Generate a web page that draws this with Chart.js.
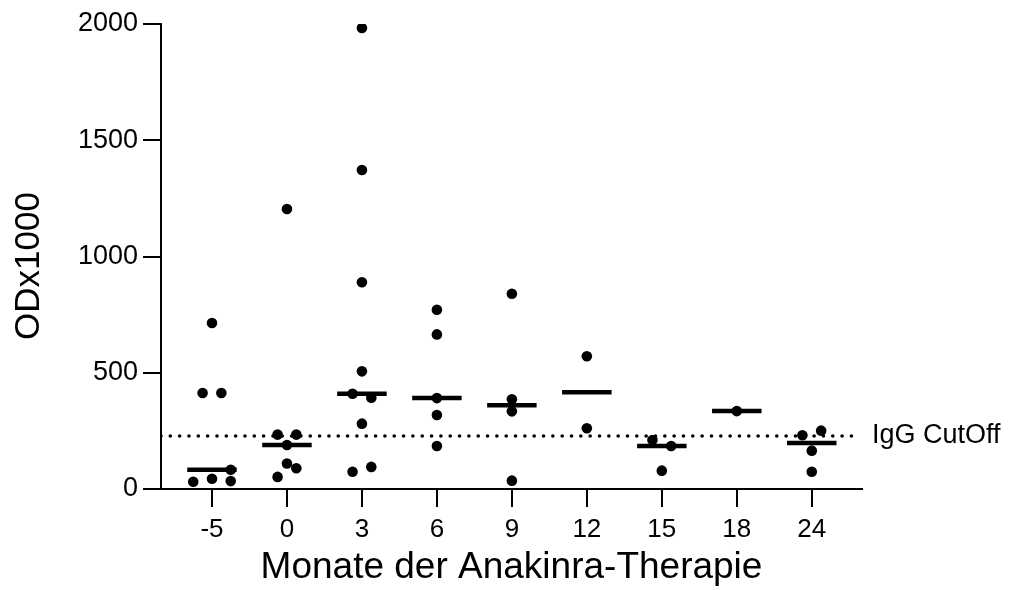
<!DOCTYPE html>
<html>
<head>
<meta charset="utf-8">
<title>ODx1000</title>
<script src="https://cdn.jsdelivr.net/npm/chart.js@4.4.1/dist/chart.umd.min.js"></script>
<style>
  html, body { margin: 0; padding: 0; background: #fff; }
  #wrap { width: 1010px; height: 590px; }
</style>
</head>
<body>
<div id="wrap"><canvas id="chart"></canvas></div>
<script>
// months of therapy (x categories)
const months = ['-5', '0', '3', '6', '9', '12', '15', '18', '24'];

// ODx1000 per patient, in entry order
const odMinus5 = [31, 44, 34, 83, 413, 413, 714];
const odMonth0 = [52, 89, 110, 189, 234, 234, 1204];
const odMonth3 = [74, 95, 281, 410, 393, 506, 889, 1372, 1983];
const odMonth6 = [185, 318, 391, 665, 771];
const odMonth9 = [36, 334, 386, 840];
const odMonth12 = [261, 571];
const odMonth15 = [79, 211, 185];
const odMonth18 = [335];
const odMonth24 = [74, 165, 231, 251];

const iggCutoff = 228;
const yTicks = [0, 500, 1000, 1500, 2000];

const groups = [odMinus5, odMonth0, odMonth3, odMonth6, odMonth9, odMonth12, odMonth15, odMonth18, odMonth24];

const FONT = "'Liberation Sans', Arial, Helvetica, sans-serif";
const HALF_STEP = 0.125;   // horizontal spread step, in category units
const ROW_SPAN = 42;       // values closer than this share a row / collide
const MEDIAN_HALF = 0.33;

function median(arr) {
    const s = [...arr].sort((a, b) => a - b);
    const mid = Math.floor(s.length / 2);
    return s.length % 2 ? s[mid] : (s[mid - 1] + s[mid]) / 2;
}

// simple dot-plot spread: points with close values are put side by side
function spread(values) {
    const order = values.map((v, i) => i).sort((a, b) => values[a] - values[b] || a - b);
    const rows = [];
    order.forEach(i => {
        const row = rows[rows.length - 1];
        if (row && values[i] - values[row[0]] < ROW_SPAN) row.push(i);
        else rows.push([i]);
    });

    const offsets = new Array(values.length).fill(0);
    const placed = [];
    rows.forEach(row => {
        if (row.length > 1) {
            row.sort((a, b) => a - b);
            row.forEach((idx, k) => {
                offsets[idx] = (2 * k - (row.length - 1)) * HALF_STEP;
                placed.push(idx);
            });
            return;
        }
        const idx = row[0];
        const candidates = [0, 2, -2, 4, -4].map(c => c * HALF_STEP);
        const free = candidates.find(off => !placed.some(p =>
            Math.abs(offsets[p] - off) < 1e-6 && Math.abs(values[p] - values[idx]) < ROW_SPAN));
        offsets[idx] = free === undefined ? 0 : free;
        placed.push(idx);
    });
    return offsets;
}

const points = [];
groups.forEach((vals, g) => {
    const offs = spread(vals);
    vals.forEach((v, i) => points.push({ x: g + offs[i], y: v }));
});

const medianSets = groups.map((vals, g) => {
    const m = median(vals);
    return {
        type: 'line',
        data: [{ x: g - MEDIAN_HALF, y: m }, { x: g + MEDIAN_HALF, y: m }],
        borderColor: '#000',
        borderWidth: 4.5,
        pointRadius: 0,
        order: 1
    };
});

const xMin = -0.68;
const xMax = 8.67;

// y title and the label next to the cutoff line
const extraText = {
    id: 'extraText',
    afterDraw(chart) {
        const { ctx, scales } = chart;
        ctx.save();
        ctx.fillStyle = '#000';

        ctx.font = '27px ' + FONT;
        ctx.textAlign = 'left';
        ctx.textBaseline = 'middle';
        ctx.fillText('IgG CutOff', scales.x.right + 10, scales.y.getPixelForValue(iggCutoff));

        ctx.font = '35px ' + FONT;
        ctx.textAlign = 'center';
        ctx.translate(29, 266);
        ctx.rotate(-Math.PI / 2);
        ctx.fillText('ODx1000', 0, 0);
        ctx.restore();
    }
};

new Chart(document.getElementById('chart'), {
    type: 'scatter',
    data: {
        datasets: [
            {
                data: points,
                backgroundColor: '#000',
                borderWidth: 0,
                pointRadius: 5.3,
                order: 0
            },
            ...medianSets,
            {
                type: 'line',
                data: [{ x: xMin, y: iggCutoff }, { x: 8.57, y: iggCutoff }],
                borderColor: '#000',
                borderWidth: 3.6,
                borderDash: [0, 9.33],
                borderCapStyle: 'round',
                pointRadius: 0,
                order: 2
            }
        ]
    },
    options: {
        responsive: true,
        maintainAspectRatio: false,
        animation: false,
        layout: { padding: { left: 0, top: 24, right: 148, bottom: 0 } },
        plugins: {
            legend: { display: false },
            tooltip: { enabled: false }
        },
        scales: {
            x: {
                type: 'linear',
                min: xMin,
                max: xMax,
                afterBuildTicks: s => { s.ticks = months.map((m, i) => ({ value: i })); },
                afterFit: s => { s.height = 101; },
                border: { display: true, color: '#000', width: 2 },
                grid: { drawOnChartArea: false, drawTicks: true, tickLength: 18, color: '#000', lineWidth: 2 },
                ticks: {
                    color: '#000',
                    font: { family: FONT, size: 26 },
                    padding: 7,
                    maxRotation: 0,
                    callback: v => months[v]
                },
                title: {
                    display: true,
                    text: 'Monate der Anakinra-Therapie',
                    color: '#000',
                    font: { family: FONT, size: 37 },
                    padding: { top: 0, bottom: 0 }
                }
            },
            y: {
                min: 0,
                max: 2000,
                afterBuildTicks: s => { s.ticks = yTicks.map(v => ({ value: v })); },
                afterFit: s => { s.width = 161; },
                border: { display: true, color: '#000', width: 2 },
                grid: { drawOnChartArea: false, drawTicks: true, tickLength: 18, color: '#000', lineWidth: 2 },
                ticks: {
                    color: '#000',
                    font: { family: FONT, size: 27 },
                    padding: 5,
                    callback: v => String(v)
                }
            }
        }
    },
    plugins: [extraText]
});
</script>
</body>
</html>
